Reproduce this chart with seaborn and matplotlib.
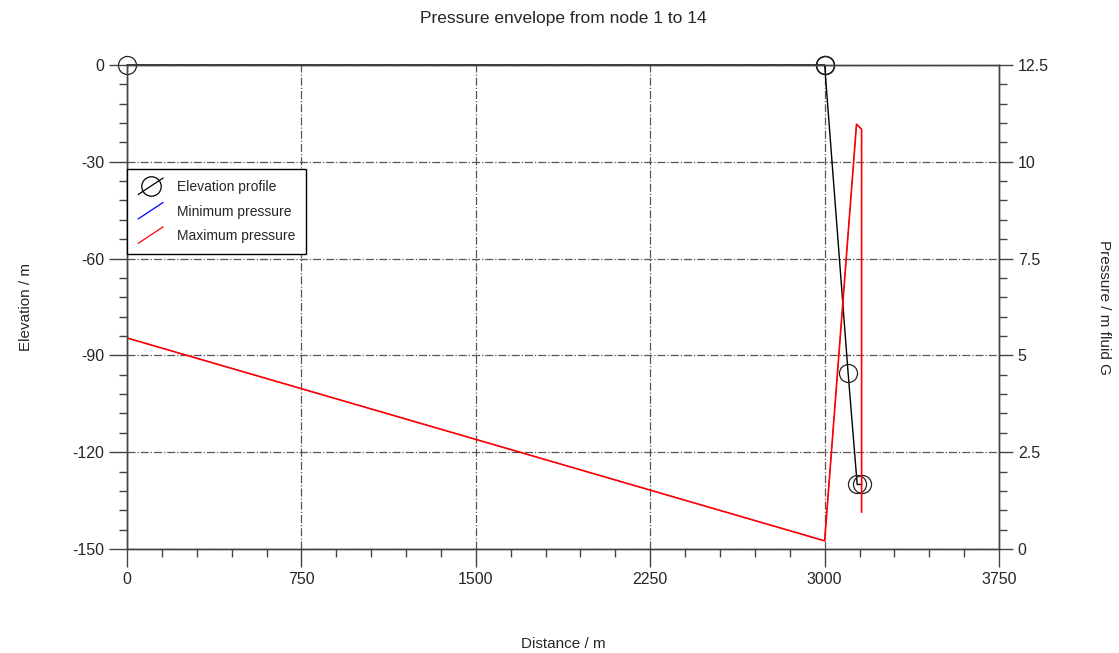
import numpy as np
import pandas as pd
import matplotlib
matplotlib.use("Agg")
import matplotlib.pyplot as plt
import seaborn as sns
from matplotlib.lines import Line2D
from matplotlib.ticker import MultipleLocator

# ---- data ----
elev_dist = [0, 3000, 3000, 3000, 3101, 3140, 3160]
elev_m = [0, 0, 0, 0, -95.5, -130, -130]

pmin_dist = [0, 0, 3000, 3137, 3159, 3159]
pmin_val = [0.95, 5.45, 0.21, 10.97, 10.84, 0.95]

pmax_dist = [0, 0, 3000, 3137, 3159, 3159]
pmax_val = [0.95, 5.45, 0.21, 10.97, 10.84, 0.95]

x_ticks = [0, 750, 1500, 2250, 3000, 3750]
elev_ticks = [-150, -120, -90, -60, -30, 0]
pres_ticks = [0, 2.5, 5, 7.5, 10, 12.5]
pres_labels = ["0", "2.5", "5", "7.5", "10", "12.5"]

elev_df = pd.DataFrame({"distance": elev_dist, "elevation": elev_m})
pmin_df = pd.DataFrame({"distance": pmin_dist, "pressure": pmin_val})
pmax_df = pd.DataFrame({"distance": pmax_dist, "pressure": pmax_val})

sns.set_style("white")
plt.rcParams['font.family'] = ['Liberation Sans', 'DejaVu Sans']
plt.rcParams['axes.unicode_minus'] = False


# legend entries drawn as short diagonal strokes like the original tool
class DiagHandler:
    def legend_artist(self, legend, orig_handle, fontsize, handlebox):
        x0, y0 = handlebox.xdescent, handlebox.ydescent
        w, h = handlebox.width, handlebox.height
        ln = Line2D([x0, x0 + w], [y0 - 0.35 * h, y0 + 1.35 * h],
                    color=orig_handle.get_color(), lw=0.9)
        handlebox.add_artist(ln)
        if orig_handle.get_marker() not in (None, "None", ""):
            mk = Line2D([x0 + w / 2], [y0 + h / 2], marker="o", ms=14,
                        mfc="none", mec=orig_handle.get_color(), mew=0.9, ls="none")
            handlebox.add_artist(mk)
        return ln


fig = plt.figure(figsize=(11.19, 6.53), dpi=100)
ax = fig.add_axes([0.1135, 0.1593, 0.7793, 0.7412])

sns.lineplot(data=elev_df, x="distance", y="elevation", ax=ax, sort=False,
             estimator=None, color="black", lw=1, marker="o", ms=13,
             mfc="none", mec="#222222", mew=0.9, zorder=5, clip_on=False)

ax.set_xlim(0, 3750)
ax.set_ylim(-150, 0)
ax.set_xticks(x_ticks)
ax.set_yticks(elev_ticks)
ax.xaxis.set_minor_locator(MultipleLocator(150))
ax.yaxis.set_minor_locator(MultipleLocator(6))
ax.grid(True, which="major", ls="-.", color="#555555", lw=0.9)
ax.tick_params(which="major", direction="out", length=13, width=1,
               color="#444444", labelsize=11.5, bottom=True, left=True,
               top=False, right=False)
ax.tick_params(which="minor", direction="out", length=6, width=1,
               color="#444444", bottom=True, left=True, top=False, right=False)
ax.set_xlabel("Distance / m", fontsize=11, labelpad=36)
ax.set_ylabel("Elevation / m", fontsize=11, labelpad=28)
ax.set_title("Pressure envelope from node 1 to 14", fontsize=12.5, pad=30)
for s in ax.spines.values():
    s.set_color("#444444")
    s.set_linewidth(1)

ax2 = ax.twinx()
# min pressure sits underneath the max pressure trace
sns.lineplot(data=pmin_df, x="distance", y="pressure", ax=ax2, sort=False,
             estimator=None, color="blue", lw=0.5)
sns.lineplot(data=pmax_df, x="distance", y="pressure", ax=ax2, sort=False,
             estimator=None, color="red", lw=1.2)
ax2.set_ylim(0, 12.5)
ax2.set_yticks(pres_ticks)
ax2.set_yticklabels(pres_labels)
ax2.yaxis.set_minor_locator(MultipleLocator(0.5))
ax2.tick_params(which="major", direction="out", length=10, width=1,
                color="#444444", labelsize=11.5, right=True, left=False)
ax2.tick_params(which="minor", direction="out", length=6, width=1,
                color="#444444", right=True, left=False)
ax2.set_ylabel("Pressure / m fluid G", fontsize=11, rotation=270, labelpad=45)
for s in ax2.spines.values():
    s.set_color("#444444")
    s.set_linewidth(1)

handles = [
    Line2D([], [], color="black", marker="o"),
    Line2D([], [], color="blue"),
    Line2D([], [], color="red"),
]
labels = ["Elevation profile", "Minimum pressure", "Maximum pressure"]
leg = ax2.legend(handles, labels, loc="upper left", bbox_to_anchor=(0, 0.785),
                 borderaxespad=0, fancybox=False, framealpha=1, fontsize=10,
                 handlelength=1.8, handletextpad=1.0, labelspacing=0.75,
                 borderpad=0.8, handler_map={Line2D: DiagHandler()})
leg.get_frame().set_edgecolor("black")
leg.get_frame().set_linewidth(1)

fig.savefig("out.png", dpi=100)
